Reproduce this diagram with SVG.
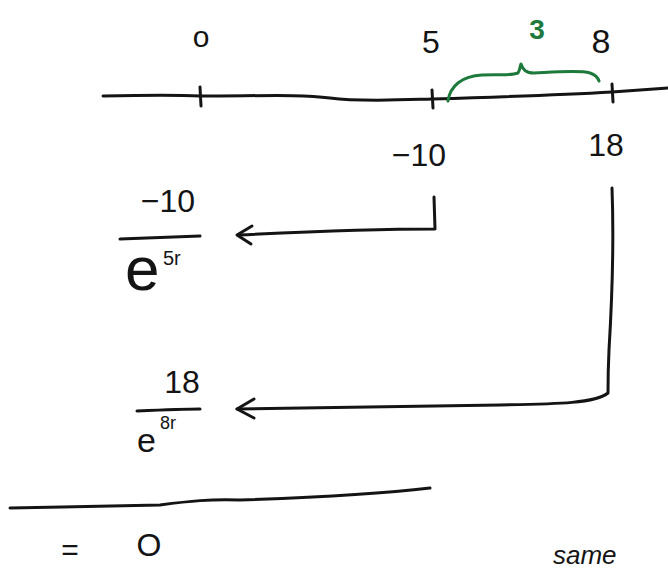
<svg xmlns="http://www.w3.org/2000/svg" width="668" height="573" viewBox="0 0 668 573">
<style>
.ink{fill:none;stroke:#141414;stroke-width:3;stroke-linecap:round;stroke-linejoin:round}
.grn{fill:none;stroke:#1e7a3c;stroke-width:3;stroke-linecap:round;stroke-linejoin:round}
.t{font-family:"Liberation Sans",Arial,sans-serif;fill:#141414}
.g{font-family:"Liberation Sans",Arial,sans-serif;fill:#1e7a3c;font-weight:bold}
</style>
<rect width="668" height="573" fill="#fff"/>
<g id="axis">
<path class="ink" d="M103,96 C150,95 180,95 200,96 C260,96 300,94 330,98 C360,102 400,100 432,99 C500,97 560,95 612,92 C640,90 655,89 668,88"/>
<path class="ink" d="M200,87 L201,106"/>
<path class="ink" d="M432,90 L433,108"/>
<path class="ink" d="M612,84 L613,102"/>
</g>
<g id="label-0"><text class="t" x="201" y="47" font-size="30" text-anchor="middle">o</text></g>
<g id="label-5"><text class="t" x="431" y="53" font-size="32" text-anchor="middle">5</text></g>
<g id="label-8"><text class="t" x="601" y="53" font-size="34" text-anchor="middle">8</text></g>
<g id="brace">
<path class="grn" d="M448,101 C450,86 462,76 482,75 C500,74 510,76 518,73 C520,70 520,66 521,64 C523,70 526,73 534,73 C555,72 580,70 590,73 C596,75 598,78 599,81"/>
<text class="g" x="537" y="39" font-size="28" text-anchor="middle">3</text>
</g>
<g id="label-m10"><text class="t" x="419" y="166" font-size="32" text-anchor="middle">−10</text></g>
<g id="label-18"><text class="t" x="606" y="156" font-size="32" text-anchor="middle">18</text></g>
<g id="frac1">
<text class="t" x="168" y="212" font-size="32" text-anchor="middle">−10</text>
<path class="ink" d="M120,239 C150,238 180,237 200,236"/>
<text class="t" x="125" y="290" font-size="62">e</text>
<text class="t" x="163" y="265" font-size="20">5r</text>
</g>
<g id="frac2">
<text class="t" x="182" y="393" font-size="32" text-anchor="middle">18</text>
<path class="ink" d="M137,411 C160,410 185,409 200,409"/>
<text class="t" x="137" y="452" font-size="34">e</text>
<text class="t" x="160" y="429" font-size="18">8r</text>
</g>
<g id="connectors">
<path class="ink" d="M434,197 L435,229 C380,229 300,232 238,235"/>
<path class="ink" d="M252,226 L237,235 L251,244"/>
<path class="ink" d="M612,188 C614,240 612,300 609,350 C608,370 608,385 608,393 C596,403 560,404 500,405 C400,406 320,408 237,409"/>
<path class="ink" d="M254,399 L237,409 L254,418"/>
</g>
<g id="sum">
<path class="ink" d="M10,508 C60,507 120,506 160,505 C190,501 210,499 240,500 C300,498 380,494 430,488"/>
<text class="t" x="70" y="560" font-size="30" text-anchor="middle">=</text>
<text class="t" x="149" y="556" font-size="32" text-anchor="middle">O</text>
</g>
<g id="note"><text class="t" x="553" y="564" font-size="26" font-style="italic">same</text></g>
</svg>
